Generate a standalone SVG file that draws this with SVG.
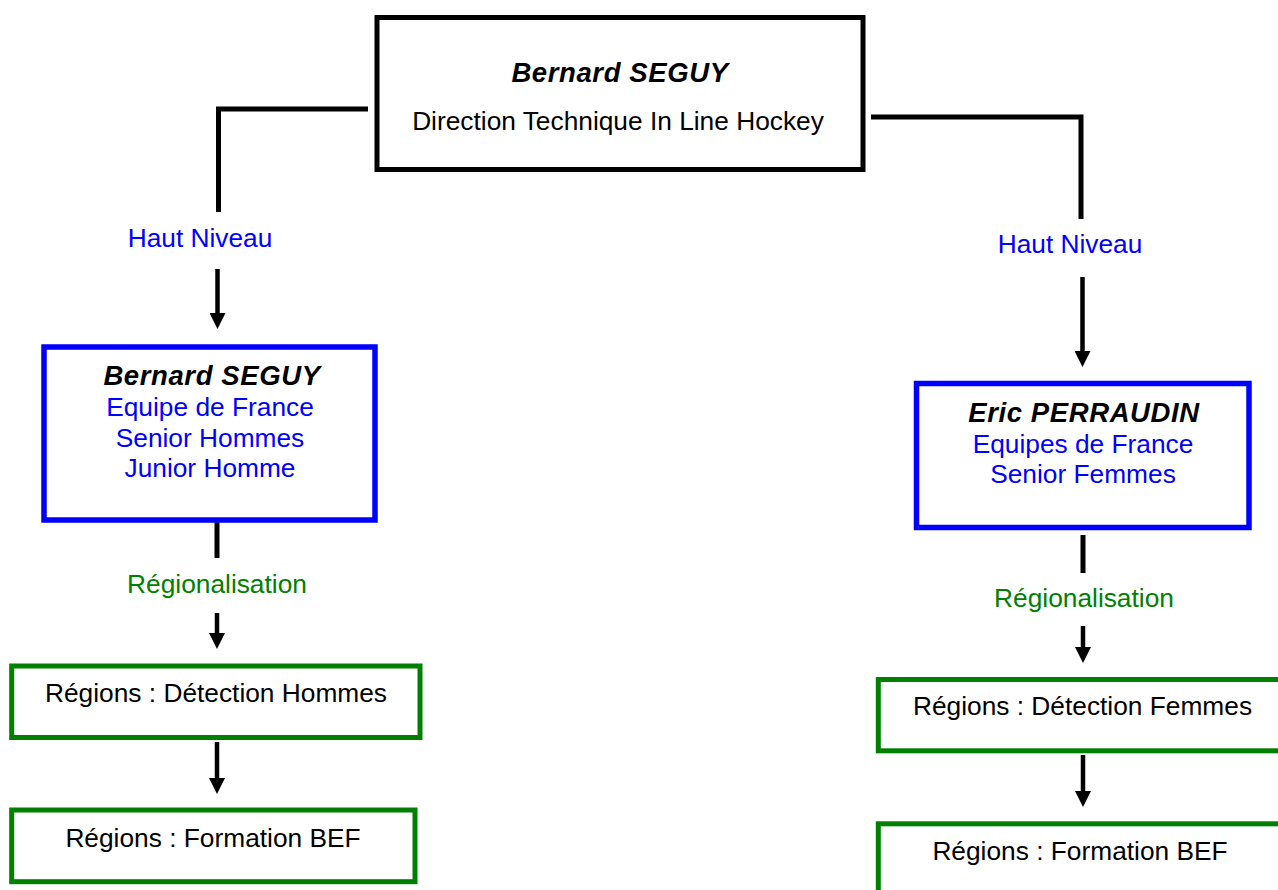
<svg xmlns="http://www.w3.org/2000/svg" width="1278" height="890" viewBox="0 0 1278 890">
<defs>
<marker id="ah" markerUnits="userSpaceOnUse" markerWidth="16" markerHeight="16" refX="4" refY="8" orient="auto" viewBox="0 0 16 16">
<path d="M0,0 L16,8 L0,16 z" fill="#000"/>
</marker>
</defs>
<style>
text{font-family:"Liberation Sans",Arial,sans-serif;font-size:26.3px;text-anchor:middle}
.bi{font-weight:bold;font-style:italic;fill:#000;font-size:27.5px;letter-spacing:0.6px}
.k{fill:#000}
.b{fill:#0000ff}
.g{fill:#008000}
.box{fill:#fff;stroke:#000;stroke-width:5}
.bbox{fill:#fff;stroke:#0000ff;stroke-width:5.5}
.gbox{fill:#fff;stroke:#008000;stroke-width:5}
.ln{fill:none;stroke:#000;stroke-width:5}
.ar{fill:none;stroke:#000;stroke-width:4.5;marker-end:url(#ah)}
</style>
<rect width="1278" height="890" fill="#fff"/>
<g id="connectors">
<polyline class="ln" points="368,109 218.5,109 218.5,212"/>
<polyline class="ln" points="871,117 1081,117 1081,219"/>
<line class="ar" x1="217.5" y1="269" x2="217.5" y2="317"/>
<line class="ar" x1="1082.5" y1="277" x2="1082.5" y2="355"/>
<line class="ln" x1="217" y1="521" x2="217" y2="558"/>
<line class="ar" x1="217" y1="613" x2="217" y2="637"/>
<line class="ar" x1="217" y1="742" x2="217" y2="782"/>
<line class="ln" x1="1083" y1="535" x2="1083" y2="573"/>
<line class="ar" x1="1083" y1="626" x2="1083" y2="651"/>
<line class="ar" x1="1083" y1="755" x2="1083" y2="795"/>
<text class="b" x="200" y="247">Haut Niveau</text>
<text class="b" x="1070" y="253">Haut Niveau</text>
<text class="g" x="217" y="593">Régionalisation</text>
<text class="g" x="1084" y="607">Régionalisation</text>
</g>
<g id="top">
<rect class="box" x="377" y="17.5" width="486" height="152"/>
<text class="bi" x="620" y="82">Bernard SEGUY</text>
<text class="k" x="618" y="130">Direction Technique In Line Hockey</text>
</g>
<g id="seguy">
<rect class="bbox" x="44" y="347" width="331" height="173"/>
<text class="bi" x="212" y="385">Bernard SEGUY</text>
<text class="b" x="210" y="416">Equipe de France</text>
<text class="b" x="210" y="447">Senior Hommes</text>
<text class="b" x="210" y="477">Junior Homme</text>
</g>
<g id="perraudin">
<rect class="bbox" x="916.5" y="383.5" width="332.5" height="144"/>
<text class="bi" x="1084" y="422">Eric PERRAUDIN</text>
<text class="b" x="1083" y="453">Equipes de France</text>
<text class="b" x="1083" y="483">Senior Femmes</text>
</g>
<g id="detection-hommes">
<rect class="gbox" x="11.7" y="666" width="408.3" height="71.5"/>
<text class="k" x="216" y="702">Régions : Détection Hommes</text>
</g>
<g id="formation-hommes">
<rect class="gbox" x="11.7" y="810" width="403.3" height="71.7"/>
<text class="k" x="213" y="847">Régions : Formation BEF</text>
</g>
<g id="detection-femmes">
<rect class="gbox" x="878.3" y="679.5" width="410" height="71.3"/>
<text class="k" x="1082.5" y="715">Régions : Détection Femmes</text>
</g>
<g id="formation-femmes">
<rect class="gbox" x="878.3" y="823.8" width="410" height="90"/>
<text class="k" x="1080" y="860">Régions : Formation BEF</text>
</g>
</svg>
